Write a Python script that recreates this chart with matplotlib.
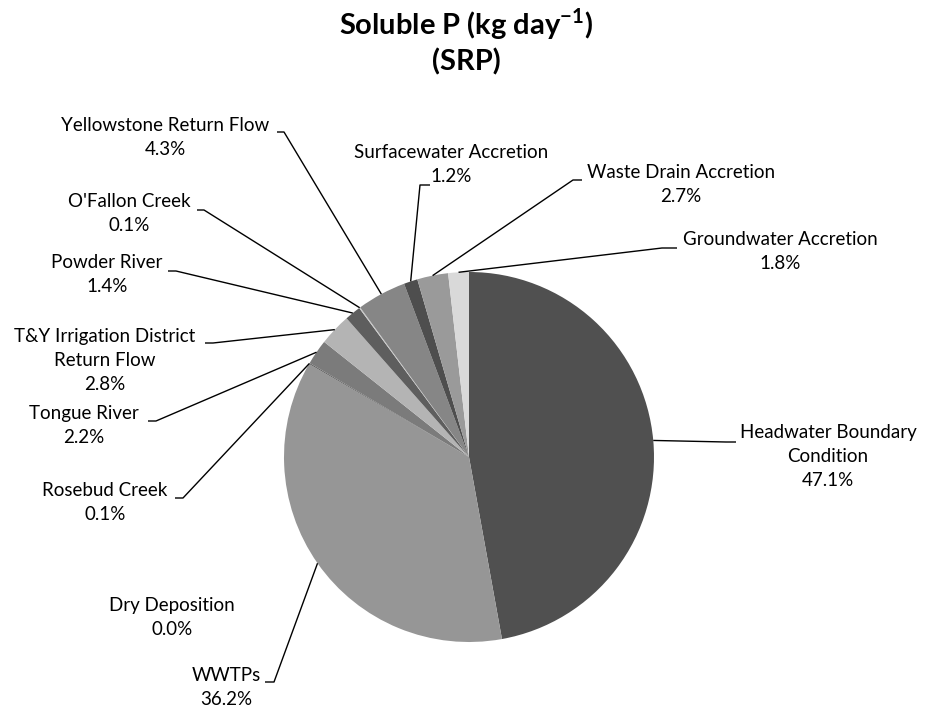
import matplotlib
matplotlib.use("Agg")
import matplotlib.pyplot as plt
import numpy as np

plt.rcParams['font.family'] = ['Lato', 'DejaVu Sans']
plt.rcParams['mathtext.fontset'] = 'custom'
plt.rcParams['mathtext.rm'] = 'Lato'
plt.rcParams['mathtext.bf'] = 'Lato:bold'

# data, clockwise from 12 o'clock
sources = ["Headwater Boundary\nCondition", "WWTPs", "Dry Deposition", "Rosebud Creek",
           "Tongue River", "T&Y Irrigation District\nReturn Flow", "Powder River",
           "O'Fallon Creek", "Yellowstone Return Flow", "Surfacewater Accretion",
           "Waste Drain Accretion", "Groundwater Accretion"]
shares = [47.1, 36.2, 0.0, 0.1, 2.2, 2.8, 1.4, 0.1, 4.3, 1.2, 2.7, 1.8]
grays = ["#505050", "#969696", "#e0e0e0", "#606060", "#7b7b7b", "#b4b4b4",
         "#5e5e5e", "#c8c8c8", "#868686", "#4e4e4e", "#9a9a9a", "#d9d9d9"]

# label layout in pixels (text centre x, first line y) and leader stubs (x text side, x pie side, y)
label_pos = [(828, 434), (226, 677), (172, 607), (105, 492), (84, 415), (105, 338),
             (107, 264), (129, 203), (165, 127), (451, 154), (681, 174), (780, 241)]
stubs = [(736, 726, 442), (265, 274, 682), None, (175, 183, 498), (148, 156, 421),
         (205, 213, 343), (168, 176, 271), (197, 204, 210), (277, 284, 132),
         (430, 420, 185), (582, 573, 180), (677, 662, 248)]

W, H = 925, 714
cx, cy, R = 469, 457, 185

fig = plt.figure(figsize=(W / 100, H / 100), dpi=100)
ax = fig.add_axes([0, 0, 1, 1])

# y axis runs downward, so counterclock=True turns clockwise on screen
wedges, _ = ax.pie(shares, colors=grays, startangle=-90, counterclock=True,
                   center=(cx, cy), radius=R, wedgeprops=dict(linewidth=0))
ax.set_aspect('equal', adjustable='box')
ax.set_xlim(0, W)
ax.set_ylim(H, 0)
ax.axis('off')

for w, name, val, (tx, ty), st in zip(wedges, sources, shares, label_pos, stubs):
    ax.text(tx, ty - 10, f"{name}\n{val:.1f}%", ha='center', va='top',
            fontsize=13.5, linespacing=1.5, color='black')
    if st is None:
        continue
    mid = np.deg2rad((w.theta1 + w.theta2) / 2)
    px = cx + R * np.cos(mid)
    py = cy + R * np.sin(mid)
    ax.plot([st[0], st[1], px], [st[2], st[2], py], color='black', lw=1,
            solid_capstyle='butt')

ax.text(466, 24, r"Soluble P (kg day$^{\mathbf{-1}}$)", ha='center', va='center',
        fontsize=21, fontweight='bold')
ax.text(466, 62, "(SRP)", ha='center', va='center', fontsize=21, fontweight='bold')

fig.savefig("out.png", dpi=100, facecolor='white')
